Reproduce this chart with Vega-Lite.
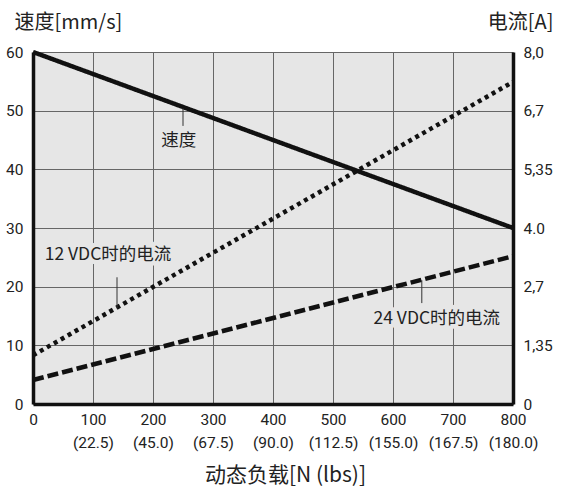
{
  "$schema": "https://vega.github.io/schema/vega-lite/v6.json",
  "width": 480,
  "height": 352,
  "autosize": "none",
  "padding": {"left": 33, "top": 52, "right": 50, "bottom": 87},
  "background": "#ffffff",
  "config": {
    "view": {"fill": "#e6e6e6", "stroke": null},
    "font": "Roboto, 'Noto Sans CJK SC', sans-serif",
    "axis": {
      "labelFont": "Roboto, sans-serif",
      "labelFontSize": 15.5,
      "labelFontWeight": "normal",
      "labelColor": "#222222",
      "titleFont": "'Noto Sans CJK SC', sans-serif",
      "titleFontSize": 20,
      "titleFontWeight": "normal",
      "titleColor": "#222222",
      "ticks": false,
      "domainColor": "#111111",
      "domainWidth": 3.5,
      "gridColor": "#666666",
      "gridWidth": 1,
      "gridOpacity": 1
    }
  },
  "datasets": {
    "lines": [
      {"series": "speed", "load": 0, "value": 60},
      {"series": "speed", "load": 800, "value": 30},
      {"series": "12VDC", "load": 0, "value": 8.3},
      {"series": "12VDC", "load": 800, "value": 54.9},
      {"series": "24VDC", "load": 0, "value": 4.1},
      {"series": "24VDC", "load": 800, "value": 25.2}
    ],
    "leaders": [
      {"load": 250, "y1": 47.4, "y2": 50.4},
      {"load": 140, "y1": 16.3, "y2": 21.6},
      {"load": 648, "y1": 17.2, "y2": 21.1}
    ],
    "labels": [
      {"text": "速度", "load": 243, "value": 44.8},
      {"text": "12 VDC时的电流", "load": 125, "value": 25.4},
      {"text": "24 VDC时的电流", "load": 673, "value": 14.5}
    ]
  },
  "resolve": {"axis": {"y": "independent"}},
  "layer": [
    {
      "data": {"name": "lines"},
      "mark": {"type": "line", "color": "#111111", "strokeWidth": 4.5, "strokeCap": "butt", "clip": false},
      "encoding": {
        "x": {
          "field": "load", "type": "quantitative",
          "scale": {"domain": [0, 800], "nice": false, "zero": false},
          "axis": {
            "values": [0, 100, 200, 300, 400, 500, 600, 700, 800],
            "grid": true,
            "labelPadding": 8,
            "labelBaseline": "top",
            "labelLineHeight": 23,
            "labelFlush": false,
            "labelExpr": "[datum.label, ['', '(22.5)', '(45.0)', '(67.5)', '(90.0)', '(112.5)', '(155.0)', '(167.5)', '(180.0)'][round(datum.value/100)]]",
            "title": "动态负载[N (lbs)]",
            "titleFontSize": 21,
            "titleY": 77,
            "titleBaseline": "alphabetic",
            "titleX": 252,
            "titleAlign": "center"
          }
        },
        "y": {
          "field": "value", "type": "quantitative",
          "scale": {"domain": [0, 60], "nice": false},
          "axis": {
            "values": [0, 10, 20, 30, 40, 50, 60],
            "grid": true,
            "labelPadding": 10,
            "labelFlush": false,
            "title": "速度[mm/s]",
            "titleAngle": 0,
            "titleAlign": "left",
            "titleBaseline": "alphabetic",
            "titleX": -19,
            "titleY": -24
          }
        },
        "strokeDash": {
          "field": "series", "type": "nominal",
          "scale": {"domain": ["speed", "12VDC", "24VDC"], "range": [[1, 0], [4, 4], [11, 4]]},
          "legend": null
        }
      }
    },
    {
      "data": {"name": "leaders"},
      "mark": {"type": "rule", "color": "#333333", "strokeWidth": 1},
      "encoding": {
        "x": {"field": "load", "type": "quantitative"},
        "y": {"field": "y1", "type": "quantitative", "axis": null},
        "y2": {"field": "y2"}
      }
    },
    {
      "data": {"name": "labels"},
      "mark": {"type": "text", "font": "'Noto Sans CJK SC', sans-serif", "fontSize": 17.5, "color": "#e6e6e6", "stroke": "#e6e6e6", "strokeWidth": 9, "strokeJoin": "round", "align": "center", "baseline": "middle"},
      "encoding": {
        "x": {"field": "load", "type": "quantitative"},
        "y": {"field": "value", "type": "quantitative", "axis": null},
        "text": {"field": "text", "type": "nominal"}
      }
    },
    {
      "data": {"name": "labels"},
      "mark": {"type": "text", "font": "'Noto Sans CJK SC', sans-serif", "fontSize": 17.5, "color": "#222222", "align": "center", "baseline": "middle"},
      "encoding": {
        "x": {"field": "load", "type": "quantitative"},
        "y": {
          "field": "value", "type": "quantitative",
          "axis": {
            "orient": "right",
            "values": [0, 10, 20, 30, 40, 50, 60],
            "grid": false,
            "labelPadding": 10,
            "labelFlush": false,
            "labelExpr": "['0', '1,35', '2,7', '4.0', '5,35', '6,7', '8,0'][round(datum.value/10)]",
            "title": "电流[A]",
            "titleAngle": 0,
            "titleAlign": "right",
            "titleBaseline": "alphabetic",
            "titleX": 40,
            "titleY": -24
          }
        },
        "text": {"field": "text", "type": "nominal"}
      }
    }
  ]
}
